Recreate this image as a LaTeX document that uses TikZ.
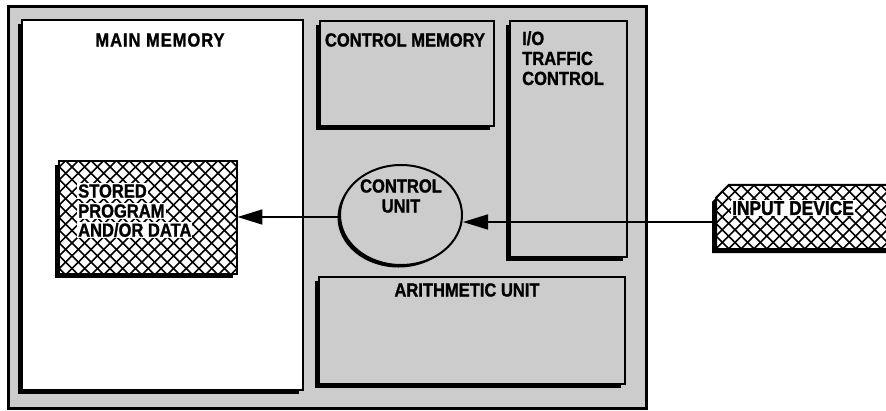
\documentclass[tikz,border=0pt]{standalone}
\usepackage{fontspec}
\setmainfont{Liberation Sans}[FakeStretch=0.87,BoldFeatures={FakeBold=1.2}]
\newfontfamily\widefont{Liberation Sans}[FakeStretch=0.87,LetterSpace=5,BoldFeatures={FakeBold=1.2}]
\usetikzlibrary{arrows.meta,shadows,shapes.geometric,calc}
\definecolor{bg}{gray}{0.80}
\begin{document}
\begin{tikzpicture}[x=1pt,y=-1pt,
  shad/.style={drop shadow={shadow xshift=-4pt,shadow yshift=-4pt,fill=black,opacity=1}},
  box/.style={rectangle,draw=black,line width=2pt,fill=bg,anchor=north west,inner sep=0pt,shad},
  plain/.style={rectangle,inner sep=0pt,anchor=north west},
  lbl/.style={font=\bfseries\fontsize{19}{20}\selectfont,align=left,inner sep=1pt},
  wlbl/.style={lbl,fill=white,inner sep=1pt},
  hline/.style={line width=1.6pt},
  edge/.style={draw=black,line width=2pt},
  arr/.style={line width=1.6pt,-{Triangle[length=25pt,width=15pt]}}]
\useasboundingbox (0,0) rectangle (886,410);
\clip (0,0) rectangle (886,410);
% outer frame
\node[plain,draw=black,line width=2.5pt,fill=bg,
      minimum width=638pt,minimum height=402pt] (frame) at (7,5) {};
% main memory
\node[box,fill=white,minimum width=281pt,minimum height=370pt] (mm) at (21,19) {};
\node[lbl] (mmt) at (160,40) {\widefont\bfseries MAIN MEMORY};
% stored program (hatched)
\node[plain,minimum width=178pt,minimum height=113pt] (sp) at (59,161) {};
\fill[black] ($(sp.north west)+(-4,4)$) rectangle ($(sp.south east)+(-4,4)$);
\fill[white] (sp.north west) rectangle (sp.south east);
\begin{scope}
  \clip (sp.north west) rectangle (sp.south east);
  \foreach \k in {-20,...,20}{
    \draw[hline] ($(sp.center)+(\k*12.7,0)+(-130,-130)$) -- ++(260,260);
    \draw[hline] ($(sp.center)+(\k*12.7,0)+(-130,130)$) -- ++(260,-260);
  }
\end{scope}
\draw[edge] (sp.north west) rectangle (sp.south east);
\node[wlbl,anchor=west] (sp1) at (77,191) {STORED};
\node[wlbl,anchor=west] (sp2) at (77,211) {PROGRAM};
\node[wlbl,anchor=west] (sp3) at (77,230) {AND/OR DATA};
% control memory
\node[box,minimum width=174pt,minimum height=105pt] (cm) at (319,20) {};
\node[lbl] (cmt) at (405,40) {CONTROL MEMORY};
% I/O traffic control
\node[box,minimum width=117pt,minimum height=236pt] (io) at (509,20) {};
\node[lbl,anchor=north west] (iot) at (521,30) {I/O\\TRAFFIC\\CONTROL};
% arithmetic unit
\node[box,minimum width=306pt,minimum height=107pt] (au) at (318,276) {};
\node[lbl] (aut) at (467,290) {ARITHMETIC UNIT};
% control unit
\node[ellipse,draw=black,line width=2pt,fill=bg,minimum width=122pt,minimum height=100pt,
      drop shadow={shadow xshift=-2.5pt,shadow yshift=-2.5pt,fill=black,opacity=1}] (cu) at (401,215) {};
\node[lbl,align=center] (cut) at (401,196) {CONTROL\\UNIT};
% input device (hatched, chamfered)
\node[plain,anchor=west,minimum width=190pt,minimum height=64pt] (in) at (716,217) {};
\fill[black] ($(in.south west)+(-4,4)$) -- ($(in.south east)+(-4,4)$) -- ($(in.north east)+(-4,4)$)
   -- ($(in.north west)+(9,4)$) -- ($(in.north west)+(-4,17)$) -- cycle;
\fill[white] (in.south west) -- (in.south east) -- (in.north east)
   -- ($(in.north west)+(13,0)$) -- ($(in.north west)+(0,13)$) -- cycle;
\begin{scope}
  \clip (in.south west) -- (in.south east) -- (in.north east)
   -- ($(in.north west)+(13,0)$) -- ($(in.north west)+(0,13)$) -- cycle;
  \foreach \k in {-20,...,20}{
    \draw[hline] ($(in.center)+(\k*12.7,0)+(-130,-130)$) -- ++(260,260);
    \draw[hline] ($(in.center)+(\k*12.7,0)+(-130,130)$) -- ++(260,-260);
  }
\end{scope}
\draw[edge] (in.south west) -- (in.south east) -- (in.north east)
   -- ($(in.north west)+(13,0)$) -- ($(in.north west)+(0,13)$) -- cycle;
\node[wlbl,font=\bfseries\fontsize{20}{20}\selectfont] (int) at (793,208) {INPUT DEVICE};
% connectors
\draw[arr] ($(cu.west)+(0,2)$) -- ($(cu.west -| sp.east)+(0,2)$);
\draw[arr] ($(in.west)+(0,5)$) -- ($(in.west -| cu.east)+(0,5)$);
\end{tikzpicture}
\end{document}
